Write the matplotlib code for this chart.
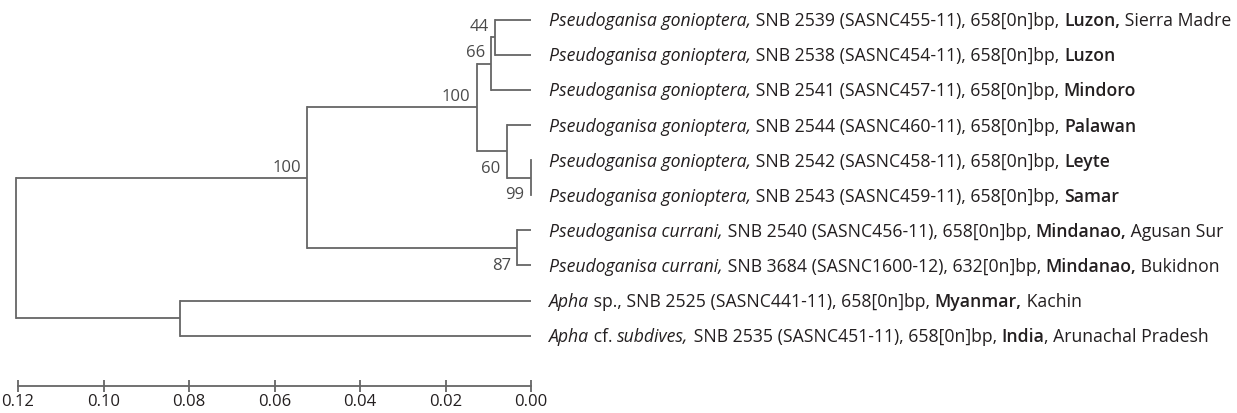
import matplotlib
matplotlib.use("Agg")
import matplotlib.pyplot as plt

# ---------------------------------------------------------------------------
# data (leaves listed top -> bottom)
# ---------------------------------------------------------------------------
leaf_labels = [
    [("Pseudoganisa gonioptera,", "i"), (" SNB 2539 (SASNC455-11), 658[0n]bp, ", "n"), ("Luzon,", "b"), (" Sierra Madre", "n")],
    [("Pseudoganisa gonioptera,", "i"), (" SNB 2538 (SASNC454-11), 658[0n]bp, ", "n"), ("Luzon", "b")],
    [("Pseudoganisa gonioptera,", "i"), (" SNB 2541 (SASNC457-11), 658[0n]bp, ", "n"), ("Mindoro", "b")],
    [("Pseudoganisa gonioptera,", "i"), (" SNB 2544 (SASNC460-11), 658[0n]bp, ", "n"), ("Palawan", "b")],
    [("Pseudoganisa gonioptera,", "i"), (" SNB 2542 (SASNC458-11), 658[0n]bp, ", "n"), ("Leyte", "b")],
    [("Pseudoganisa gonioptera,", "i"), (" SNB 2543 (SASNC459-11), 658[0n]bp, ", "n"), ("Samar", "b")],
    [("Pseudoganisa currani,", "i"), (" SNB 2540 (SASNC456-11), 658[0n]bp, ", "n"), ("Mindanao,", "b"), (" Agusan Sur", "n")],
    [("Pseudoganisa currani,", "i"), (" SNB 3684 (SASNC1600-12), 632[0n]bp, ", "n"), ("Mindanao,", "b"), (" Bukidnon", "n")],
    [("Apha", "i"), (" sp., SNB 2525 (SASNC441-11), 658[0n]bp, ", "n"), ("Myanmar,", "b"), (" Kachin", "n")],
    [("Apha", "i"), (" cf. ", "n"), ("subdives,", "i"), (" SNB 2535 (SASNC451-11), 658[0n]bp, ", "n"), ("India", "b"), (", Arunachal Pradesh", "n")],
]

# internal nodes: distance from tips, children (leaf index or node name)
node_names = ["n44", "n66", "n99", "n60", "gonio", "n87", "pseudo", "apha", "root"]
node_heights = [0.0085, 0.0093, 0.0001, 0.0057, 0.0127, 0.0032, 0.0524, 0.0820, 0.1205]
node_children = [(0, 1), ("n44", 2), (4, 5), (3, "n99"), ("n66", "n60"),
                 (6, 7), ("gonio", "n87"), (8, 9), ("pseudo", "apha")]
bootstrap = [44, 66, 99, 60, 100, 87, 100, None, None]
boot_side = ["above", "above", "below", "below", "above", "below", "above", None, None]

scale_ticks = [0.12, 0.10, 0.08, 0.06, 0.04, 0.02, 0.00]

# ---------------------------------------------------------------------------
LINE_C = "#666666"
TEXT_C = "#231f20"
BOOT_C = "#4a4a4a"
FONT = "Open Sans"
FS = 12.0        # numbers
FS_LEAF = 12.7   # taxon labels

plt.rcParams["font.family"] = [FONT, "DejaVu Sans"]

W, H, DPI = 1237, 414, 100
fig = plt.figure(figsize=(W / DPI, H / DPI), dpi=DPI)
x0_px, x1_px = 18, 531
ax = fig.add_axes([x0_px / W, 0, (x1_px - x0_px) / W, 1])
row0, row_h = 20.7, 35.1            # pixel y of first leaf, spacing
ax.set_xlim(0.12, 0.0)
ax.set_ylim((H - row0) / row_h, -row0 / row_h)

# positions
ypos = {i: float(i) for i in range(len(leaf_labels))}
xpos = {i: 0.0 for i in range(len(leaf_labels))}
for name, h, ch in zip(node_names, node_heights, node_children):
    a, b = ch
    ypos[name] = (ypos[a] + ypos[b]) / 2
    xpos[name] = h
    for c in ch:
        ax.plot([xpos[c], h], [ypos[c], ypos[c]], color=LINE_C, lw=1.3,
                solid_capstyle="butt", clip_on=False)
    ax.plot([h, h], [ypos[a], ypos[b]], color=LINE_C, lw=1.3,
            solid_capstyle="projecting", clip_on=False)

# bootstrap values
for name, bs, side in zip(node_names, bootstrap, boot_side):
    if bs is None:
        continue
    dy = 8 if side == "above" else -12
    ax.annotate(str(bs), xy=(xpos[name], ypos[name]), xytext=(-4.5, dy),
                textcoords="offset points", ha="right", va="center",
                fontsize=FS, color=BOOT_C)

# leaf labels, drawn piece by piece
fig.canvas.draw()
renderer = fig.canvas.get_renderer()
styles = {"i": dict(style="italic"), "n": dict(), "b": dict(weight="semibold")}
for i, parts in enumerate(leaf_labels):
    off = 13.0
    for txt, st in parts:
        t = ax.annotate(txt, xy=(0.0, ypos[i]), xytext=(off, -4.0),
                        textcoords="offset points", ha="left", va="baseline",
                        fontsize=FS_LEAF, color=TEXT_C,
                        annotation_clip=False, **styles[st])
        off += t.get_window_extent(renderer).width * 72 / DPI

# scale bar
for s in ["top", "left", "right"]:
    ax.spines[s].set_visible(False)
ax.spines["bottom"].set_position(("data", (387 - row0) / row_h))
ax.spines["bottom"].set_color(LINE_C)
ax.spines["bottom"].set_linewidth(1.3)
ax.set_yticks([])
ax.set_xticks(scale_ticks)
ax.set_xticklabels([f"{v:.2f}" for v in scale_ticks])
ax.tick_params(axis="x", direction="inout", length=8, width=1.3, color=LINE_C,
               labelsize=FS, labelcolor=TEXT_C, pad=1)
ax.patch.set_visible(False)

fig.savefig("out.png", dpi=DPI)
